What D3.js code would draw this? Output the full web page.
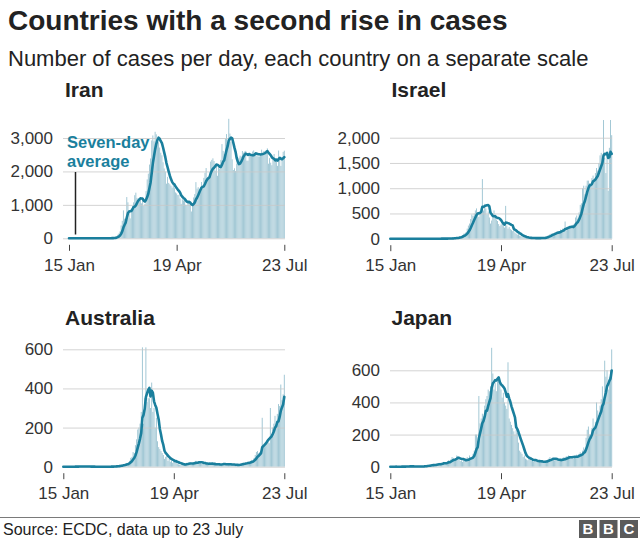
<!DOCTYPE html>
<html><head><meta charset="utf-8">
<script src="https://cdn.jsdelivr.net/npm/d3@7"></script>
<style>
body{margin:0;background:#fff;}
svg{display:block;font-family:"Liberation Sans",Arial,Helvetica,sans-serif;}
</style></head><body>
<svg id="chart" width="640" height="540"></svg>
<script>
// ---------- DATA ----------
const startDate = "2020-01-15";
const tickDates = ["2020-01-15", "2020-04-19", "2020-07-23"];
const tickLabels = ["15 Jan", "19 Apr", "23 Jul"];
const countries = ["Iran", "Israel", "Australia", "Japan"];

const yTicksIran = [0, 1000, 2000, 3000];
const yTicksIsrael = [0, 500, 1000, 1500, 2000];
const yTicksAustralia = [0, 200, 400, 600];
const yTicksJapan = [0, 200, 400, 600];

// daily cases, 15 Jan .. 23 Jul (191 days)
const iranCases = [
  // 15 Jan - 18 Feb
  0,0,0,0,0,0,0,0,0,0,0,0,0,0,0,0,0,0,0,0,0,0,0,0,0,0,0,0,0,0,0,0,0,0,0,
  // 19 Feb - 29 Feb
  2,3,13,10,15,18,34,44,106,143,205,
  // March
  385,523,835,586,591,1234,1076,743,595,881,958,1075,1289,1365,1209,1053,1178,1192,1046,1237,966,1028,1411,1762,1934,2206,2389,2926,3076,2901,3186,
  // April
  3111,2987,2875,2715,2560,2483,2274,2089,1997,1634,1837,1657,1617,1574,1512,1606,1499,1374,1343,1294,1297,1194,1030,1168,1134,1153,1006,991,1073,1112,
  // May
  1006,802,976,1223,1323,1680,1485,1529,1383,1529,1683,1481,1808,1958,2102,1757,1806,1870,2294,2346,2392,2311,2023,2180,1869,2111,2073,2346,2819,2615,2516,
  // June
  2979,3117,2886,3574,3134,2886,2364,2043,2095,2011,2238,2369,2410,2472,2449,2612,2563,2596,2615,2322,2322,2573,2531,2445,2595,2628,2489,2536,2457,2449,
  // 1 - 23 July
  2450,2549,2652,2560,2613,2566,2637,2691,2232,2397,2262,2186,2349,2521,2388,2379,2166,2625,2414,2166,2414,2586,2621
];

const israelCases = [
  // 15 Jan - 20 Feb
  0,0,0,0,0,0,0,0,0,0,0,0,0,0,0,0,0,0,0,0,0,0,0,0,0,0,0,0,0,0,0,0,0,0,0,0,0,
  // 21 Feb - 29 Feb
  1,0,0,1,0,1,0,2,0,
  // March
  2,3,2,5,4,2,6,9,11,21,18,22,17,38,53,46,72,98,105,130,200,260,300,390,480,450,500,560,600,520,430,
  // April
  520,610,1180,560,690,600,480,540,420,300,360,450,560,480,380,350,290,250,280,300,250,220,650,260,200,230,190,170,150,180,
  // May
  120,100,80,90,60,50,40,30,25,20,15,20,12,15,12,10,14,8,11,16,13,9,12,18,15,20,25,40,60,70,90,
  // June
  100,110,90,120,130,140,150,120,180,170,200,190,340,170,220,230,250,200,260,280,300,420,460,400,520,670,700,1000,1050,880,
  // 1 - 23 July
  1050,1150,1150,1100,1050,1200,1250,1150,1300,1400,1350,1500,1650,1700,1600,2350,1600,1300,1700,950,1800,2350,2050
];

const australiaCases = [
  // 15 Jan - 24 Jan
  0,0,0,0,0,0,0,0,0,0,
  // 25 Jan - 29 Feb
  1,2,0,1,1,0,0,3,1,0,0,1,0,0,0,0,0,0,0,0,0,0,0,0,0,0,0,0,0,0,0,1,2,0,3,2,
  // March
  4,3,6,8,10,6,12,14,16,20,22,30,45,50,75,70,110,140,190,200,220,280,610,220,350,610,330,350,350,300,430,
  // April
  280,300,200,250,130,100,90,80,70,60,40,50,60,30,40,25,30,20,30,25,28,15,12,10,8,15,10,12,14,20,
  // May
  16,18,22,10,15,18,25,30,20,28,22,18,14,16,12,20,15,18,12,16,14,20,10,12,8,10,14,16,9,12,18,
  // June
  15,10,9,14,12,11,16,8,10,7,6,9,8,12,15,18,16,20,14,18,20,25,24,30,35,28,45,60,75,80,
  // 1 - 23 July
  70,75,80,250,110,115,125,130,140,120,300,150,200,220,260,200,270,320,310,420,340,370,470
];

const japanCases = [
  0,0,0,0,0,1,0,0,0,0,1,1,2,1,3,
  2,1,3,2,1,1,0,3,1,2,0,1,2,3,4,
  5,8,10,6,9,12,14,11,15,8,18,20,24,14,22,
  20,30,18,25,35,40,26,45,60,55,40,50,70,65,45,
  35,40,30,45,50,35,60,40,70,55,60,80,100,200,200,
  160,440,270,300,330,300,380,420,440,480,470,500,740,580,480,
  520,470,540,560,540,480,430,460,400,380,360,650,300,280,260,
  240,220,200,230,210,150,100,90,80,60,70,50,45,40,55,
  50,35,40,30,45,35,30,25,40,30,28,35,30,25,40,
  45,50,60,45,55,50,40,45,38,42,35,48,40,55,60,
  45,65,55,70,60,55,65,50,70,60,75,65,80,90,70,
  100,120,110,180,230,250,200,180,240,300,250,280,400,350,320,
  380,420,500,380,660,560,600,480,560,600,730
];

const seriesByCountry = [iranCases, israelCases, australiaCases, japanCases];
const yTicksByCountry = [yTicksIran, yTicksIsrael, yTicksAustralia, yTicksJapan];

// ---------- LAYOUT ----------
const layouts = [
  {x0: 69,    x1: 284.3, gx0: 63,  gx1: 285,   y0: 238.3, yTop: 138,   tx: 65,    ty: 97},
  {x0: 390.3, x1: 611.7, gx0: 390, gx1: 612,   y0: 238.7, yTop: 137.7, tx: 391.5, ty: 97},
  {x0: 63.3,  x1: 284.3, gx0: 63,  gx1: 285,   y0: 466.7, yTop: 349.3, tx: 65,    ty: 325},
  {x0: 390.3, x1: 611.7, gx0: 390, gx1: 612,   y0: 466.7, yTop: 370.3, tx: 391.5, ty: 325}
];

const TEAL = "#1a7f9d";
const BAR = "#9cc4d2";
const svg = d3.select("#chart");
const parse = d3.utcParse("%Y-%m-%d");
const d0 = parse(startDate);

// header
svg.append("text").attr("x", 8).attr("y", 30)
  .attr("font-size", 28).attr("font-weight", "bold").attr("fill", "#222")
  .text("Countries with a second rise in cases");
svg.append("text").attr("x", 8).attr("y", 66)
  .attr("font-size", 22).attr("fill", "#222")
  .text("Number of cases per day, each country on a separate scale");

countries.forEach((name, ci) => {
  const vals = seriesByCountry[ci];
  const ticks = yTicksByCountry[ci];
  const L = layouts[ci];
  const data = vals.map((v, i) => ({date: d3.utcDay.offset(d0, i), v}));
  const avg = data.map((d, i) => {
    const win = vals.slice(Math.max(0, i - 6), i + 1);
    return {date: d.date, v: d3.mean(win)};
  });
  const x = d3.scaleUtc().domain([data[0].date, data[data.length - 1].date]).range([L.x0, L.x1]);
  const y = d3.scaleLinear().domain([0, ticks[ticks.length - 1]]).range([L.y0, L.yTop]);
  const g = svg.append("g");

  g.append("text").attr("x", L.tx).attr("y", L.ty)
    .attr("font-size", 21).attr("font-weight", "bold").attr("fill", "#222").text(name);

  const bw = (L.x1 - L.x0) / (vals.length - 1) * 0.8;
  g.append("g").selectAll("rect").data(data).join("rect")
    .attr("x", d => x(d.date) - bw / 2)
    .attr("width", bw)
    .attr("y", d => y(d.v))
    .attr("height", d => y(0) - y(d.v))
    .attr("fill", BAR);

  const ya = g.append("g").attr("transform", `translate(${L.gx0},0)`)
    .call(d3.axisLeft(y).tickValues(ticks).tickFormat(d3.format(","))
      .tickSize(-(L.gx1 - L.gx0)).tickPadding(10));
  ya.select(".domain").remove();
  ya.selectAll(".tick line").attr("stroke", "#c8c8c8").attr("stroke-opacity", 0.8);
  ya.selectAll(".tick text").attr("font-size", 17).attr("fill", "#333")
    .attr("font-family", "Liberation Sans, Arial, sans-serif");

  const xa = g.append("g").attr("transform", `translate(0,${L.y0 + 6.5})`)
    .call(d3.axisBottom(x).tickValues(tickDates.map(parse))
      .tickFormat((d, i) => tickLabels[i]).tickSize(6).tickPadding(8));
  xa.select(".domain").remove();
  xa.selectAll(".tick line").attr("stroke", "#444");
  xa.selectAll(".tick text").attr("font-size", 17).attr("fill", "#333")
    .attr("font-family", "Liberation Sans, Arial, sans-serif");

  g.append("path").datum(avg)
    .attr("fill", "none").attr("stroke", TEAL).attr("stroke-width", 2.6)
    .attr("stroke-linejoin", "round").attr("stroke-linecap", "round")
    .attr("d", d3.line().x(d => x(d.date)).y(d => y(d.v)));

  if (ci === 0) {
    g.append("line").attr("x1", 75.5).attr("x2", 75.5).attr("y1", 172).attr("y2", 234.5)
      .attr("stroke", "#222").attr("stroke-width", 1.5);
    g.append("text").attr("x", 67).attr("y", 148)
      .attr("font-size", 16.5).attr("font-weight", "bold").attr("fill", TEAL).text("Seven-day");
    g.append("text").attr("x", 67).attr("y", 167)
      .attr("font-size", 16.5).attr("font-weight", "bold").attr("fill", TEAL).text("average");
  }
});

// footer
svg.append("line").attr("x1", 0).attr("x2", 640).attr("y1", 517.5).attr("y2", 517.5)
  .attr("stroke", "#7a7a7a").attr("stroke-width", 1);
svg.append("text").attr("x", 3).attr("y", 535).attr("font-size", 16).attr("fill", "#222")
  .text("Source: ECDC, data up to 23 July");
["B", "B", "C"].forEach((ch, i) => {
  const bx = 579 + i * 20.5;
  svg.append("rect").attr("x", bx).attr("y", 520).attr("width", 18).attr("height", 18).attr("fill", "#5a5a5a");
  svg.append("text").attr("x", bx + 9).attr("y", 534).attr("text-anchor", "middle")
    .attr("font-size", 15).attr("font-weight", "bold").attr("fill", "#fff").text(ch);
});
</script>
</body></html>
